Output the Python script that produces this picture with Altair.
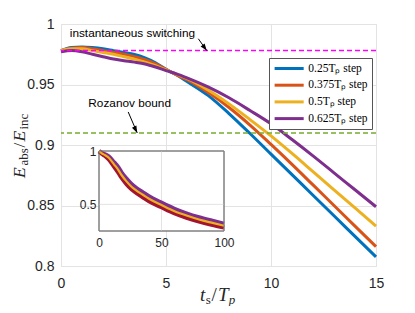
import altair as alt
import pandas as pd

# ---------------- data ----------------
t_main = [0, 0.5, 1, 1.5, 2, 2.5, 3, 3.5, 4, 4.5, 5, 5.5, 6, 7, 8, 9, 10, 11, 12, 13, 14, 15]
e_step_025 = [0.978, 0.9805, 0.981, 0.9805, 0.9795, 0.978, 0.9765, 0.9748, 0.972, 0.968, 0.9625,
              0.958, 0.9525, 0.941, 0.926, 0.9095, 0.8925, 0.8755, 0.8585, 0.8415, 0.8245, 0.8075]
e_step_0375 = [0.978, 0.980, 0.9805, 0.9795, 0.978, 0.9765, 0.975, 0.973, 0.9705, 0.967, 0.9625,
               0.958, 0.954, 0.9435, 0.931, 0.9165, 0.9005, 0.884, 0.867, 0.850, 0.833, 0.816]
e_step_05 = [0.978, 0.9795, 0.9795, 0.978, 0.9765, 0.975, 0.973, 0.971, 0.9685, 0.9655, 0.962,
             0.9585, 0.955, 0.9455, 0.934, 0.921, 0.9075, 0.893, 0.878, 0.863, 0.848, 0.833]
e_step_0625 = [0.977, 0.978, 0.977, 0.975, 0.973, 0.971, 0.9697, 0.9685, 0.967, 0.9645, 0.9615,
               0.9588, 0.9555, 0.948, 0.939, 0.9285, 0.9175, 0.9045, 0.891, 0.877, 0.863, 0.849]

series_names = ["0.25Tₚ step", "0.375Tₚ step", "0.5Tₚ step", "0.625Tₚ step"]
series_colors = ["#0072BD", "#D95319", "#EDB120", "#7E2F8E"]

inst_switching = 0.978
rozanov_bound = 0.910

t_inset = [0, 2, 5, 8, 12, 15, 18, 22, 26, 30, 35, 40, 50, 60, 70, 80, 90, 100]
inset_upper = [1.0, 0.985, 0.968, 0.948, 0.895, 0.855, 0.80, 0.74, 0.69, 0.652, 0.613, 0.575,
               0.515, 0.46, 0.415, 0.378, 0.347, 0.318]
inset_mid = [1.0, 0.98, 0.96, 0.935, 0.875, 0.83, 0.775, 0.715, 0.665, 0.628, 0.59, 0.552,
             0.494, 0.438, 0.395, 0.358, 0.328, 0.30]
inset_lower = [0.995, 0.975, 0.952, 0.92, 0.855, 0.805, 0.75, 0.69, 0.642, 0.605, 0.567, 0.53,
               0.473, 0.418, 0.375, 0.34, 0.31, 0.283]

x_ticks = [0, 5, 10, 15]
y_ticks = [0.8, 0.85, 0.9, 0.95, 1]
inset_x_ticks = [0, 50, 100]
inset_y_ticks = [0.5, 1]

ann_labels = ["instantaneous switching", "Rozanov bound"]
ann_x = [3.40, 3.27]
ann_y = [0.9927, 0.9347]
arrow_x = [6.54, 3.20]
arrow_y = [0.9878, 0.9273]
arrow_tip_x = [6.94, 3.63]
arrow_tip_y = [0.978, 0.910]
arrow_angle = [324, 334]

# ---------------- layout ----------------
W, H = 315, 242
GRID = "#e3e3e3"
BOX = "#808080"
TXT = "#262626"

rows = []
for name, vals in zip(series_names, [e_step_025, e_step_0375, e_step_05, e_step_0625]):
    for t, v in zip(t_main, vals):
        rows.append({"t": t, "e": v, "series": name})
df_main = pd.DataFrame(rows)

xs = alt.Scale(domain=[0, 15], nice=False, zero=False)
ys = alt.Scale(domain=[0.8, 1], nice=False, zero=False)

x_axis = alt.Axis(values=x_ticks, grid=True, gridColor=GRID, title=None, labelFontSize=14,
                  labelPadding=10, ticks=False, domain=False, format="d", labelColor=TXT,
                  labelFont="Liberation Sans", labelFlush=False)
y_axis = alt.Axis(values=y_ticks, grid=True, gridColor=GRID, title=None, labelFontSize=14,
                  labelPadding=7, ticks=False, domain=False, format="~g", labelColor=TXT,
                  labelFont="Liberation Sans", labelFlush=False)


def MX(field):
    return alt.X(field, scale=xs, axis=x_axis, title=None)


def MY(field):
    return alt.Y(field, scale=ys, axis=y_axis, title=None)


lines = alt.Chart(df_main).mark_line(strokeWidth=3, interpolate="monotone").encode(
    x=MX("t:Q"),
    y=MY("e:Q"),
    color=alt.Color("series:N", sort=series_names,
                    scale=alt.Scale(domain=series_names, range=series_colors),
                    legend=alt.Legend(orient="none", legendX=208, legendY=34, title=None,
                                      symbolType="M-3,0L3,0", symbolStrokeWidth=3, symbolSize=94,
                                      symbolOffset=9.65, labelOffset=12.65,
                                      labelFont="Liberation Serif", labelFontSize=11.5,
                                      labelColor="black", fillColor="white", strokeColor="#555555",
                                      padding=4, rowPadding=3.7)),
)

df_levels = pd.DataFrame({"y": [inst_switching, rozanov_bound], "kind": ["inst", "roz"]})
rule_inst = alt.Chart(df_levels).transform_filter(alt.datum.kind == "inst").mark_rule(
    color="#FF00FF", strokeDash=[5, 3], strokeWidth=1.5).encode(y=MY("y:Q"))
rule_roz = alt.Chart(df_levels).transform_filter(alt.datum.kind == "roz").mark_rule(
    color="#77AC30", strokeDash=[5, 3], strokeWidth=1.5).encode(y=MY("y:Q"))

df_ann = pd.DataFrame({"x": ann_x, "y": ann_y, "label": ann_labels,
                       "ax": arrow_x, "ay": arrow_y, "tx": arrow_tip_x, "ty": arrow_tip_y,
                       "ang": arrow_angle})
ann_text = alt.Chart(df_ann).mark_text(font="Liberation Sans", fontSize=11.8, color="black").encode(
    x=MX("x:Q"), y=MY("y:Q"), text="label:N")
arrow_line = alt.Chart(df_ann).mark_rule(color="black", strokeWidth=1).encode(
    x=MX("ax:Q"), y=MY("ay:Q"), x2="tx:Q", y2="ty:Q")
arrow_head = alt.Chart(df_ann).mark_point(shape="M0,0 L-0.35,-1 L0.35,-1 Z", filled=True,
                                          color="black", size=196, opacity=1).encode(
    x=MX("tx:Q"), y=MY("ty:Q"), angle=alt.Angle("ang:Q", scale=None))

one = pd.DataFrame({"k": [0]})


def piece(text, x, y, size, style="normal", angle=0):
    return alt.Chart(one).mark_text(text=text, font="Liberation Serif", fontSize=size,
                                    fontStyle=style, align="left", baseline="alphabetic",
                                    angle=angle, color=TXT).encode(x=alt.value(x), y=alt.value(y))


# x-axis title  t_s / T_p
xt = [piece("t", 139, 277, 19, "italic"), piece("s", 144.8, 280, 13),
      piece("/", 150.6, 277, 19), piece("T", 157, 277, 19, "italic"),
      piece("p", 167.8, 280, 13, "italic")]
# y-axis title  E_abs / E_inc (rotated)
yt = [piece("E", -36.5, 154, 17.5, "italic", 270), piece("abs", -33, 141.5, 13, "normal", 270),
      piece("/", -36.5, 123.5, 17.5, "normal", 270), piece("E", -36.5, 117.5, 17.5, "italic", 270),
      piece("inc", -33, 105.5, 13, "normal", 270)]

main = alt.layer(lines, rule_inst, rule_roz, ann_text, arrow_line, arrow_head, *xt, *yt)

# ---------------- inset ----------------
IX0, IX1, IY0, IY1 = 38, 163, 207, 127
ixs = alt.Scale(domain=[0, 100], range=[IX0, IX1], nice=False, zero=False)
iys = alt.Scale(domain=[0.25, 1], range=[IY0, IY1], nice=False, zero=False)

inset_x_axis = alt.Axis(values=inset_x_ticks, orient="bottom", offset=-(H - IY0), grid=False,
                        title=None, labelFontSize=12, labelPadding=6, ticks=False, domain=False,
                        format="d", labelColor=TXT, labelFont="Liberation Sans", zindex=1,
                        labelFlush=False)
inset_y_axis = alt.Axis(values=inset_y_ticks, orient="left", offset=-IX0, grid=False, title=None,
                        labelFontSize=12, labelPadding=3, ticks=False, domain=False, format="~g",
                        labelColor=TXT, labelFont="Liberation Sans", zindex=1, labelFlush=False)


def IX(field):
    return alt.X(field, scale=ixs, axis=inset_x_axis, title=None)


def IY(field):
    return alt.Y(field, scale=iys, axis=inset_y_axis, title=None)


df_box = pd.DataFrame({"x": [0], "x2": [100], "y": [0.25], "y2": [1]})
inset_bg = alt.Chart(df_box).mark_rect(fill="white", stroke=BOX, strokeWidth=1).encode(
    x=IX("x:Q"), x2="x2:Q", y=IY("y:Q"), y2="y2:Q")
df_ig = pd.DataFrame({"gx": [50], "gy": [0.5]})
inset_gx = alt.Chart(df_ig).mark_rule(color=GRID, strokeWidth=1).encode(
    x=IX("gx:Q"), y=alt.value(IY1), y2=alt.value(IY0))
inset_gy = alt.Chart(df_ig).mark_rule(color=GRID, strokeWidth=1).encode(
    y=IY("gy:Q"), x=alt.value(IX0), x2=alt.value(IX1))

df_inset = pd.DataFrame({"t": t_inset, "up": inset_upper, "mid": inset_mid, "low": inset_lower})


def inset_line(col, color, width):
    return alt.Chart(df_inset).mark_line(color=color, strokeWidth=width, interpolate="monotone").encode(
        x=IX("t:Q"), y=IY(f"{col}:Q"))


inset_frame = alt.Chart(df_box).mark_rect(fill=None, stroke=BOX, strokeWidth=1).encode(
    x=IX("x:Q"), x2="x2:Q", y=IY("y:Q"), y2="y2:Q")

inset = alt.layer(inset_bg, inset_gx, inset_gy,
                  inset_line("up", "#7E2F8E", 4.2),
                  inset_line("low", "#A2142F", 4.2),
                  inset_line("mid", "#EDB120", 2.2),
                  inset_frame)

chart = alt.layer(main, inset).resolve_scale(x="independent", y="independent").properties(
    width=W, height=H,
    autosize=alt.AutoSizeParams(type="none"),
    padding={"left": 53, "top": 16, "right": 30, "bottom": 40},
).configure_view(stroke=BOX, strokeWidth=1).configure(background="white")

chart.save("out.html", embed_options={"renderer": "svg", "actions": False})
